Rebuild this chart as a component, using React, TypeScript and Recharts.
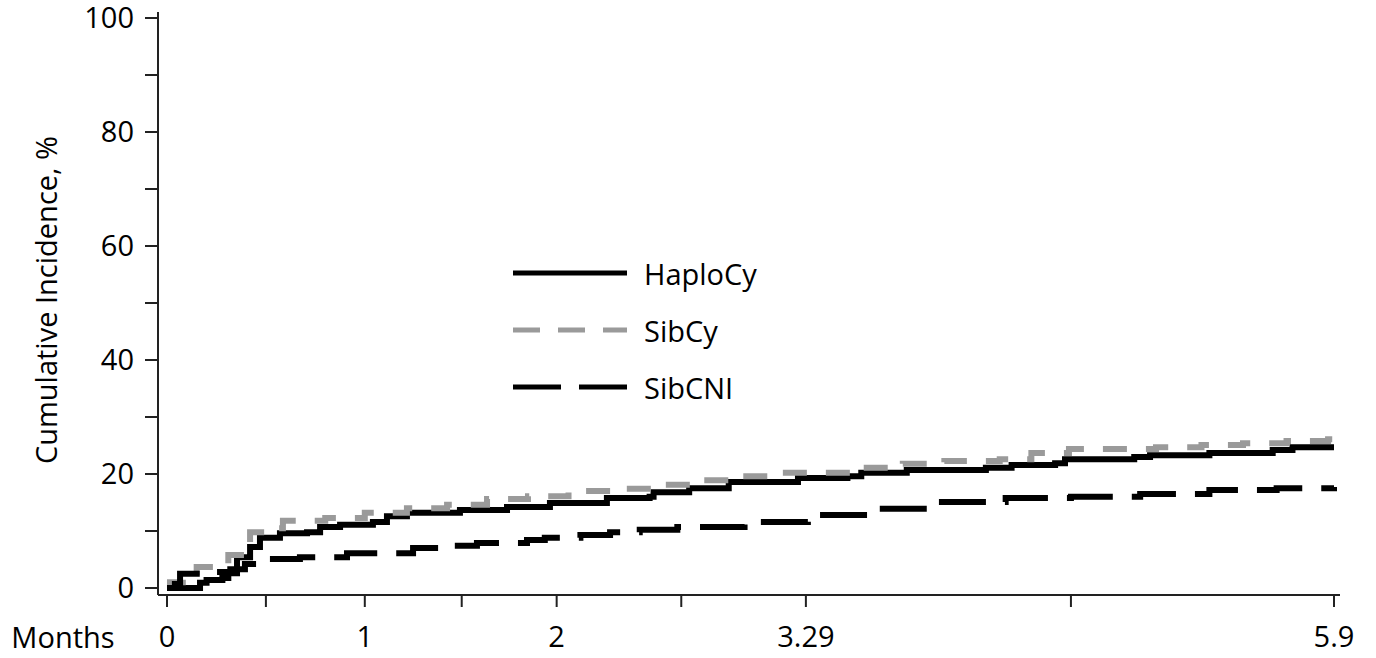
import React from 'react';
import { LineChart, Line, XAxis, YAxis, Legend } from 'recharts';

const FONT = '"Open Sans", sans-serif';
const FONT_SIZE = 29;

// months since transplant / cumulative incidence (%)
const haploMonths = [0, 0.167, 0.2, 0.28, 0.31, 0.354, 0.42, 0.47, 0.571, 0.708, 0.774, 0.875, 1.041, 1.112, 1.213, 1.481, 1.719, 1.936, 2.224, 2.44, 2.46, 2.64, 2.84, 3.19, 3.44, 3.51, 3.74, 4.14, 4.27, 4.49, 4.54, 4.89, 4.97, 5.27, 5.59, 5.69, 5.9];
const haploPct = [0, 0.9, 1.4, 1.75, 2.6, 5.4, 7.2, 8.8, 9.6, 9.8, 10.7, 11.1, 11.6, 12.6, 13.2, 13.7, 14.2, 14.9, 15.8, 16.0, 16.8, 17.5, 18.6, 19.3, 19.6, 20.2, 20.7, 21.1, 21.6, 21.9, 22.6, 23.0, 23.3, 23.7, 24.2, 24.7, 24.7];

const sibCyMonths = [0, 0.015, 0.08, 0.15, 0.28, 0.31, 0.39, 0.42, 0.5, 0.586, 0.8, 1.0, 1.213, 1.416, 1.618, 1.825, 2.03, 2.25, 2.46, 2.65, 2.87, 3.08, 3.5, 3.72, 3.93, 4.21, 4.37, 4.56, 5.0, 5.23, 5.44, 5.66, 5.87, 5.9];
const sibCyPct = [0, 1.0, 2.8, 3.7, 3.9, 5.8, 7.5, 9.8, 10.5, 11.8, 12.3, 13.2, 14.0, 14.6, 15.6, 16.1, 17.0, 17.4, 18.1, 18.9, 19.6, 20.2, 21.1, 21.8, 22.3, 22.6, 23.7, 24.4, 24.7, 25.1, 25.4, 25.8, 26.1, 26.1];

const sibCniMonths = [0, 0.04, 0.066, 0.217, 0.32, 0.394, 0.47, 0.672, 0.91, 1.244, 1.38, 1.567, 1.82, 1.91, 2.09, 2.24, 2.39, 2.58, 2.92, 3.24, 3.56, 3.9, 4.24, 4.57, 4.92, 5.27, 5.61, 5.9];
const sibCniPct = [0, 0.7, 2.5, 2.8, 3.3, 4.2, 5.1, 5.4, 6.1, 7.0, 7.4, 7.9, 8.4, 8.8, 9.3, 9.8, 10.2, 10.7, 11.6, 12.8, 13.9, 15.1, 15.8, 16.0, 16.5, 17.2, 17.5, 17.7];

const xTicks = [0, 0.5, 1, 1.49, 1.97, 2.6, 3.23, 4.57, 5.9];
const xTickLabels = ['0', '', '1', '', '2', '', '3.29', '', '5.9'];
const yTicks = [0, 10, 20, 30, 40, 50, 60, 70, 80, 90, 100];

const zip = (m: number[], p: number[]) => m.map((month, i) => ({ month, pct: p[i] }));

const series = [
  { name: 'HaploCy', data: zip(haploMonths, haploPct), color: '#000000', dash: undefined as string | undefined, legendDash: undefined as string | undefined },
  { name: 'SibCy', data: zip(sibCyMonths, sibCyPct), color: '#9a9a9a', dash: '24 19', legendDash: '27 18' },
  { name: 'SibCNI', data: zip(sibCniMonths, sibCniPct), color: '#000000', dash: '47 19', legendDash: '48 18' },
];

const textStyle = { fontFamily: FONT, fontSize: FONT_SIZE, fill: '#000' };

function LegendBox() {
  return (
    <svg width={300} height={170}>
      {series.map((s, i) => {
        const y = 23 + i * 57;
        return (
          <g key={s.name}>
            <line x1={13} x2={127} y1={y} y2={y} stroke={s.color} strokeWidth={5} strokeDasharray={s.legendDash} />
            <text x={144} y={y} dominantBaseline="central" style={textStyle}>{s.name}</text>
          </g>
        );
      })}
    </svg>
  );
}

export default function App() {
  return (
    <div style={{ position: 'fixed', left: 0, top: 0, width: 1376, height: 658, background: '#fff' }}>
      <LineChart width={1376} height={658} margin={{ top: 12, right: 36, bottom: 0, left: 0 }}>
        <XAxis
          dataKey="month"
          type="number"
          domain={[0, 5.9]}
          ticks={xTicks}
          interval={0}
          padding={{ left: 9, right: 6 }}
          height={63}
          tickSize={12}
          tickMargin={19}
          tickFormatter={(v: number) => xTickLabels[xTicks.indexOf(v)] ?? ''}
          tick={textStyle}
          axisLine={{ stroke: '#222', strokeWidth: 2 }}
          tickLine={{ stroke: '#222', strokeWidth: 2 }}
          label={{
            content: () => (
              <text x={63} y={636} textAnchor="middle" dominantBaseline="central" style={textStyle}>Months</text>
            ),
          }}
        />
        <XAxis
          xAxisId="top"
          orientation="top"
          type="number"
          domain={[0, 5.9]}
          height={0}
          tick={false}
          tickLine={false}
          axisLine={{ stroke: '#222', strokeWidth: 2 }}
          label={{
            content: () => (
              <text x={1312} y={48} textAnchor="end" dominantBaseline="central" style={textStyle}>p&lt;0.001</text>
            ),
          }}
        />
        <YAxis
          type="number"
          domain={[0, 100]}
          ticks={yTicks}
          interval={0}
          width={158}
          padding={{ top: 6, bottom: 7 }}
          tickSize={13}
          tickMargin={11}
          tickFormatter={(v: number) => (v % 20 === 0 ? String(v) : '')}
          tick={textStyle}
          axisLine={{ stroke: '#222', strokeWidth: 2 }}
          tickLine={{ stroke: '#222', strokeWidth: 2 }}
          label={{
            content: () => (
              <text x={45} y={300} transform="rotate(-90 45 300)" textAnchor="middle" dominantBaseline="central" style={textStyle}>
                Cumulative Incidence, %
              </text>
            ),
          }}
        />
        <YAxis
          yAxisId="right"
          orientation="right"
          type="number"
          domain={[0, 100]}
          width={0}
          tick={false}
          tickLine={false}
          axisLine={{ stroke: '#222', strokeWidth: 2 }}
        />
        <Legend
          layout="vertical"
          align="center"
          verticalAlign="middle"
          wrapperStyle={{ position: 'absolute', left: 500, top: 250, width: 300, height: 170 }}
          content={() => <LegendBox />}
        />
        {series.map((s) => (
          <Line
            key={s.name}
            data={s.data}
            dataKey="pct"
            name={s.name}
            type="stepAfter"
            stroke={s.color}
            strokeWidth={6}
            strokeDasharray={s.dash}
            dot={false}
            activeDot={false}
            isAnimationActive={false}
          />
        ))}
      </LineChart>
    </div>
  );
}
